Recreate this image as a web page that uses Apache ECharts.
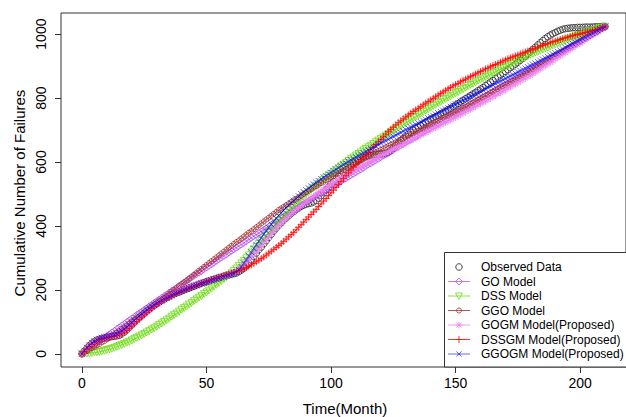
<!DOCTYPE html>
<html><head><meta charset="utf-8">
<script src="https://cdn.jsdelivr.net/npm/echarts@6/dist/echarts.min.js"></script>
<style>html,body{margin:0;padding:0;background:#fff}#c{width:626px;height:417px}</style>
</head><body><div id="c"></div>
<script>
// Time in months (0..210)
const months = Array.from({length: 211}, (_, i) => i);
const xTicks = [0, 50, 100, 150, 200];
const yTicks = [0, 200, 400, 600, 800, 1000];

const observed = [
0,9,18,26,33,39,43,46,48,50,
52,53,54,55,56,58,62,68,75,83,
91,99,107,114,120,127,134,140,146,152,
157,162,167,171,176,180,184,188,191,194,
197,200,203,206,209,212,215,218,221,223,
226,228,231,233,236,238,240,243,245,247,
249,251,253,257,262,268,275,284,294,305,
315,325,334,344,354,364,374,384,393,402,
410,418,425,432,439,445,451,456,461,465,
468,470,472,475,480,487,495,504,513,522,
531,539,547,555,562,569,576,583,589,595,
600,605,609,613,616,619,621,622,623,624,
625,626,627,630,636,643,651,659,667,674,
681,687,693,699,704,709,714,719,724,729,
734,738,742,746,750,755,759,764,768,773,
778,783,788,793,798,803,808,813,818,823,
828,833,839,844,850,855,861,866,872,877,
883,889,895,900,906,912,918,924,931,938,
945,952,959,966,973,980,986,992,997,1001,
1005,1009,1012,1015,1017,1018,1019,1020,1020,1021,
1021,1021,1022,1022,1022,1022,1023,1023,1023,1024,1024];

const goModel = [
0,6,11,17,22,28,34,39,45,50,
56,61,67,72,78,83,89,94,100,105,
111,116,122,127,132,138,143,149,154,160,
165,170,176,181,186,192,197,202,207,213,
218,223,228,233,239,244,249,254,259,265,
270,275,280,285,291,296,301,306,311,317,
322,327,332,337,342,347,352,358,363,368,
373,378,383,388,393,398,404,409,414,419,
424,429,434,439,444,449,454,459,464,469,
474,479,483,488,493,498,502,507,512,516,
521,526,530,535,540,545,549,554,559,563,
568,573,577,582,587,592,596,601,606,610,
615,620,624,629,633,638,643,647,652,656,
661,666,670,675,679,684,689,693,698,702,
707,711,716,720,725,730,734,739,743,748,
752,757,761,766,770,775,780,784,789,793,
798,802,807,811,816,820,825,829,834,838,
843,847,852,856,861,865,870,874,879,883,
888,892,897,901,906,910,915,919,924,928,
933,937,942,946,951,955,960,964,969,973,
978,982,987,991,996,1000,1005,1009,1014,1018,1023];

const dssModel = [
0,1,1,2,3,4,5,6,8,10,
12,14,16,19,22,25,28,31,35,38,
42,46,50,54,58,62,67,71,76,80,
85,90,95,100,105,110,116,121,126,132,
138,143,148,154,159,165,170,176,181,187,
192,198,204,210,216,222,228,234,240,246,
252,259,267,275,283,291,299,308,317,326,
335,344,353,362,371,380,389,398,407,416,
425,433,441,449,456,464,471,479,486,493,
500,506,513,519,525,531,537,544,550,556,
562,568,574,580,586,591,597,603,609,614,
620,625,630,636,641,646,651,656,662,667,
672,677,682,687,692,697,702,707,712,717,
722,727,732,737,741,746,751,756,761,765,
770,775,779,784,788,793,797,802,806,811,
815,819,824,828,832,837,841,845,849,854,
858,862,866,870,874,878,882,886,890,894,
898,902,906,909,913,917,920,924,928,931,
935,938,942,945,948,952,955,958,961,965,
968,971,974,977,980,983,985,988,991,994,
997,999,1002,1005,1007,1010,1013,1015,1018,1020,1023];

const ggoModel = [
0,4,9,13,18,22,27,31,36,40,
45,50,55,60,66,71,77,82,88,94,
100,106,111,117,123,129,135,141,146,152,
158,164,170,176,182,188,194,200,206,212,
218,224,230,236,242,248,254,260,266,272,
278,284,290,296,302,308,314,320,326,332,
338,344,350,355,361,367,373,379,384,390,
396,402,408,414,420,426,432,438,444,450,
455,460,465,470,475,480,485,490,495,500,
505,510,515,520,524,529,534,538,543,547,
552,556,561,565,570,574,578,583,587,592,
596,600,604,609,613,617,621,625,630,634,
638,642,646,650,654,658,662,666,670,674,
678,682,686,690,694,698,702,706,710,714,
718,722,726,730,734,738,742,745,749,753,
757,761,765,769,773,777,782,786,790,795,
799,803,807,811,816,820,824,828,833,837,
841,845,850,854,858,863,867,871,876,880,
885,889,894,898,903,907,912,917,921,926,
931,935,940,944,949,954,958,963,968,972,
977,981,986,991,995,1000,1004,1009,1014,1018,1023];

const gogmModel = [
0,9,18,26,32,38,42,45,48,50,
52,54,55,56,57,60,64,70,76,83,
90,97,104,111,118,125,131,137,143,150,
156,161,166,171,175,180,184,188,192,196,
200,203,206,209,212,215,217,220,222,225,
228,230,233,235,237,240,242,244,246,249,
251,254,259,265,272,280,288,296,305,313,
322,331,340,349,358,367,376,385,393,401,
409,417,424,431,438,445,452,458,464,470,
476,482,488,493,499,504,510,515,520,525,
530,535,540,545,550,555,559,564,568,573,
577,582,586,590,595,599,603,607,611,616,
620,624,628,632,636,640,644,648,652,656,
660,664,668,672,676,680,684,688,692,696,
700,704,708,712,716,720,724,728,732,736,
740,744,748,753,757,761,765,769,774,778,
782,786,791,795,800,804,808,813,817,822,
826,831,835,840,844,849,853,858,862,867,
871,876,881,886,891,896,901,906,911,916,
922,927,932,937,942,947,952,957,962,967,
972,977,982,987,992,998,1003,1008,1013,1018,1023];

const dssgmModel = [
0,7,15,23,30,36,41,45,48,50,
52,53,54,55,57,59,63,68,74,80,
87,94,101,108,115,122,129,136,142,148,
154,159,164,169,173,177,181,185,189,192,
196,199,202,205,208,211,214,217,220,223,
226,229,232,235,237,240,242,245,247,250,
252,254,257,260,263,266,270,274,278,283,
288,293,298,303,309,315,321,327,333,339,
345,352,359,366,373,380,388,396,404,412,
420,428,436,444,452,461,469,478,486,495,
504,512,521,530,539,548,557,566,575,584,
592,600,608,615,623,630,638,646,655,663,
671,679,687,695,702,709,716,723,729,735,
741,747,752,758,763,768,773,779,784,789,
794,799,804,809,814,819,824,829,833,838,
842,846,851,855,859,863,867,871,875,879,
883,887,891,894,898,902,905,909,912,916,
919,923,926,929,932,935,938,941,944,947,
950,953,956,959,962,965,968,970,973,976,
978,981,983,986,988,990,993,995,997,999,
1001,1003,1005,1007,1009,1011,1013,1015,1018,1020,1023];

const ggogmModel = [
0,10,19,27,34,39,44,47,50,52,
54,56,58,60,63,67,72,78,84,91,
98,105,112,119,125,131,137,142,148,153,
158,162,167,171,175,179,183,187,190,194,
197,200,203,206,209,212,214,217,220,222,
225,227,230,232,234,237,239,241,244,246,
249,252,256,263,272,283,294,306,318,330,
341,352,363,374,385,395,405,415,424,433,
441,449,457,465,472,479,486,493,500,506,
512,518,524,530,536,541,547,552,557,562,
567,572,577,582,587,592,596,601,606,610,
615,619,624,628,633,637,641,646,650,654,
659,663,667,671,676,680,684,688,692,697,
701,705,709,713,717,721,725,729,733,737,
741,745,749,753,757,761,765,769,773,777,
781,785,789,793,797,801,805,809,813,817,
821,825,829,833,837,841,845,849,853,857,
861,865,869,873,877,881,885,889,893,897,
901,905,909,913,917,921,925,929,933,937,
941,945,949,953,958,962,966,970,974,978,
982,986,990,994,999,1003,1007,1011,1015,1019,1023];

const FONT = '"Liberation Sans", Arial, sans-serif';
const AX = '#333';
const ASTER = 'path://M5 0L5 10M0 5L10 5M1.6 1.6L8.4 8.4M8.4 1.6L1.6 8.4';
const PLUS = 'path://M5 0L5 10M0 5L10 5';
const CROSS = 'path://M0 0L10 10M10 0L0 10';

const defs = [
  {name: 'Observed Data', data: observed, color: 'rgba(0,0,0,0.75)', symbol: 'circle', size: 6.5, line: false, kind: 'circle'},
  {name: 'GO Model', data: goModel, color: 'rgba(160,32,240,0.6)', symbol: 'diamond', size: 7, kind: 'diamond'},
  {name: 'DSS Model', data: dssModel, color: 'rgba(110,220,20,0.8)', symbol: 'triangle', rotate: 180, size: 7, kind: 'tri'},
  {name: 'GGO Model', data: ggoModel, color: 'rgba(165,42,42,0.8)', symbol: 'circle', size: 5, kind: 'circle'},
  {name: 'GOGM Model(Proposed)', data: gogmModel, color: 'rgba(238,130,238,0.8)', symbol: ASTER, size: 7, kind: 'aster'},
  {name: 'DSSGM Model(Proposed)', data: dssgmModel, color: 'rgba(255,0,0,0.8)', symbol: PLUS, size: 7, kind: 'plus'},
  {name: 'GGOGM Model(Proposed)', data: ggogmModel, color: 'rgba(0,0,255,0.6)', symbol: CROSS, size: 6, kind: 'cross'}
];

// legend (R-style, drawn as graphics)
const legendEls = [{type: 'rect', shape: {x: 444.5, y: 252.5, width: 200, height: 114.5}, style: {fill: '#fff', stroke: AX, lineWidth: 1}, z: 10}];
const rowY = [267, 281.5, 296, 310.5, 325, 339.5, 354];
defs.forEach((d, i) => {
  const y = rowY[i], cx = 459, c = d.color;
  const st = {stroke: c, lineWidth: 1, fill: 'none'};
  if (d.line !== false) legendEls.push({type: 'line', shape: {x1: 448, y1: y, x2: 470, y2: y}, style: st, z: 11});
  const r = 3.5;
  if (d.kind === 'circle') legendEls.push({type: 'circle', shape: {cx, cy: y, r: d.size / 2}, style: st, z: 11});
  if (d.kind === 'diamond') legendEls.push({type: 'polygon', shape: {points: [[cx, y - r], [cx + r, y], [cx, y + r], [cx - r, y]]}, style: st, z: 11});
  if (d.kind === 'tri') legendEls.push({type: 'polygon', shape: {points: [[cx - r, y - 3], [cx + r, y - 3], [cx, y + 3.5]]}, style: st, z: 11});
  const seg = (x1, y1, x2, y2) => legendEls.push({type: 'line', shape: {x1, y1, x2, y2}, style: st, z: 11});
  if (d.kind === 'plus' || d.kind === 'aster') { seg(cx, y - r, cx, y + r); seg(cx - r, y, cx + r, y); }
  if (d.kind === 'cross' || d.kind === 'aster') { seg(cx - 2.6, y - 2.6, cx + 2.6, y + 2.6); seg(cx + 2.6, y - 2.6, cx - 2.6, y + 2.6); }
  legendEls.push({type: 'text', x: 481, y: y, style: {text: d.name, fontSize: 12, fontFamily: FONT, fill: '#000', align: 'left', verticalAlign: 'middle', textAlign: 'left', textVerticalAlign: 'middle'}, z: 11});
});

const titles = [
  {type: 'text', x: 345, y: 408, style: {text: 'Time(Month)', fontSize: 15, fontFamily: FONT, fill: '#000', align: 'center', verticalAlign: 'middle', textAlign: 'center', textVerticalAlign: 'middle'}},
  {type: 'text', x: 19, y: 193, rotation: Math.PI / 2, style: {text: 'Cumulative Number of Failures', fontSize: 15, fontFamily: FONT, fill: '#000', align: 'center', verticalAlign: 'middle', textAlign: 'center', textVerticalAlign: 'middle'}}
];

const chart = echarts.init(document.getElementById('c'), null, {renderer: 'svg'});
chart.setOption({
  animation: false,
  backgroundColor: '#fff',
  grid: {left: 61, top: 13, right: -1, bottom: 50, show: true, borderColor: AX, borderWidth: 1, backgroundColor: 'transparent'},
  xAxis: {
    type: 'value', min: -8.4, max: 218.4,
    axisLine: {show: false, onZero: false},
    splitLine: {show: false},
    axisTick: {show: true, length: 6, inside: false, customValues: xTicks, lineStyle: {color: AX}},
    axisLabel: {customValues: xTicks, fontSize: 14, fontFamily: FONT, color: '#000', margin: 9, formatter: v => String(v)}
  },
  yAxis: {
    type: 'value', min: -41, max: 1066,
    axisLine: {show: false, onZero: false},
    splitLine: {show: false},
    axisTick: {show: true, length: 6, inside: false, customValues: yTicks, lineStyle: {color: AX}},
    axisLabel: {customValues: yTicks, fontSize: 14, fontFamily: FONT, color: '#000', margin: 13, rotate: 90, formatter: v => String(v)}
  },
  graphic: {elements: titles.concat(legendEls)},
  series: defs.map(d => ({
    type: d.line === false ? 'scatter' : 'line',
    name: d.name,
    data: months.map((t, i) => [t, d.data[i]]),
    symbol: d.symbol,
    symbolSize: d.size,
    symbolRotate: d.rotate || 0,
    showAllSymbol: true,
    itemStyle: {color: 'transparent', borderColor: d.color, borderWidth: 1},
    lineStyle: {color: d.color, width: 1},
    emphasis: {disabled: true},
    silent: true,
    animation: false
  }))
});
</script>
</body></html>
